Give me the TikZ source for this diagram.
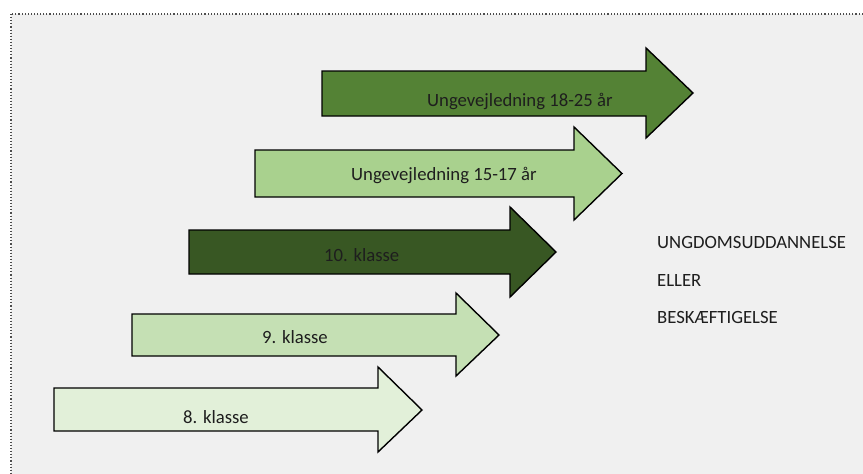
\documentclass[tikz,border=0pt]{standalone}
\usepackage{fontspec}
\setmainfont{Carlito}
\definecolor{bgc}{HTML}{F0F0F0}
\definecolor{gA}{HTML}{548235}
\definecolor{gB}{HTML}{A9D18E}
\definecolor{gC}{HTML}{385723}
\definecolor{gD}{HTML}{C5E0B4}
\definecolor{gE}{HTML}{E2F0D9}
\definecolor{txt}{HTML}{1E1E1E}
\tikzset{
  arrowshape/.style={draw=black, line width=1.4pt, line join=miter},
  lbl/.style={anchor=base west, inner sep=0pt, text=txt, font=\fontsize{18.7}{22}\selectfont},
}
% #1 left, #2 body top, #3 body bottom, #4 head base x, #5 head top, #6 head bottom, #7 tip x, #8 tip y
\newcommand{\arrowpath}[8]{(#1,#2) -- (#4,#2) -- (#4,#5) -- (#7,#8) -- (#4,#6) -- (#4,#3) -- (#1,#3) -- cycle}
\begin{document}
\begin{tikzpicture}[x=1pt,y=-1pt]
\useasboundingbox (0,0) rectangle (863,474);
\fill[white] (0,0) rectangle (863,474);
\begin{scope}
\clip (0,0) rectangle (863,474);
\draw[fill=bgc, draw=black!70, line width=1.1pt, dotted] (11,14) rectangle (880,490);
\end{scope}
% arrows
\fill[gA, arrowshape] \arrowpath{322}{71}{116}{646}{48}{138}{693}{93};
\fill[gB, arrowshape] \arrowpath{255}{150}{197}{574}{127}{220}{622}{173.5};
\fill[gC, arrowshape] \arrowpath{189}{230}{274}{510}{207}{297}{556}{252};
\fill[gD, arrowshape] \arrowpath{132}{314}{356}{456}{293}{376}{499}{335};
\fill[gE, arrowshape] \arrowpath{54}{388}{431}{378}{367}{452}{422}{410};
% labels
\node[lbl] (t1) at (427,106) {Ungevejledning 18-25 år};
\node[lbl] (t2) at (351,180) {Ungevejledning 15-17 år};
\node[lbl] (t3) at (324,261) {10. klasse};
\node[lbl] (t4) at (262,343) {9. klasse};
\node[lbl] (t5) at (183,423) {8. klasse};
\node[lbl] (r1) at (657,248) {UNGDOMSUDDANNELSE};
\node[lbl] (r2) at (657,286) {ELLER};
\node[lbl] (r3) at (657,323) {BESKÆFTIGELSE};
\end{tikzpicture}
\end{document}
